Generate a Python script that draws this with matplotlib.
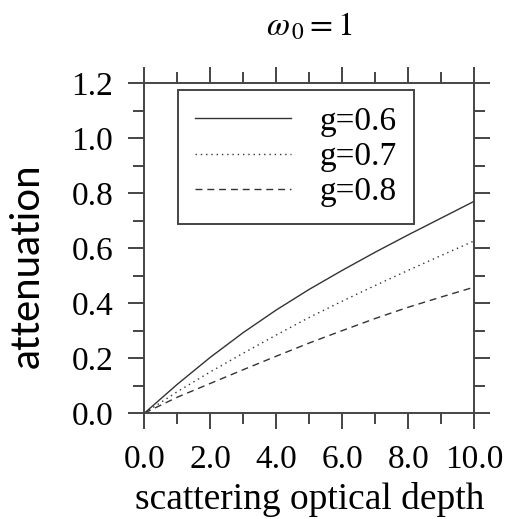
import numpy as np
import matplotlib
matplotlib.use('Agg')
import matplotlib.pyplot as plt
from matplotlib.ticker import MultipleLocator

# scattering optical depth and attenuation
tau = [0.0, 1.0, 2.0, 3.0, 4.0, 5.0, 6.0, 7.0, 8.0, 9.0, 10.0]
att_g06 = [0.0, 0.105, 0.203, 0.293, 0.375, 0.450, 0.519, 0.585, 0.648, 0.709, 0.770]
att_g07 = [0.0, 0.078, 0.150, 0.218, 0.284, 0.348, 0.407, 0.464, 0.519, 0.573, 0.626]
att_g08 = [0.0, 0.058, 0.108, 0.158, 0.207, 0.255, 0.300, 0.344, 0.385, 0.422, 0.458]

labels = ['g=0.6', 'g=0.7', 'g=0.8']
x_ticks = [0.0, 2.0, 4.0, 6.0, 8.0, 10.0]
y_ticks = [0.0, 0.2, 0.4, 0.6, 0.8, 1.0, 1.2]

plt.rcParams['font.family'] = ['Liberation Serif', 'DejaVu Serif']
plt.rcParams['mathtext.fontset'] = 'stix'

ink = '#444444'
fig = plt.figure(figsize=(5.12, 5.19), dpi=100)
ax = fig.add_axes([0.282, 0.204, 0.644, 0.636])

ax.plot(tau, att_g06, color='#333333', lw=1.0, ls='-', label=labels[0])
ax.plot(tau, att_g07, color='#333333', lw=1.0, ls=(0, (1, 2.8)), label=labels[1])
ax.plot(tau, att_g08, color='#333333', lw=1.0, ls=(0, (5, 3.5)), label=labels[2])

ax.set_xlim(0, 10)
ax.set_ylim(0, 1.2)
ax.set_xticks(x_ticks)
ax.set_yticks(y_ticks)
ax.set_xticklabels([f'{v:.1f}' for v in x_ticks])
ax.set_yticklabels([f'{v:.1f}' for v in y_ticks])
ax.xaxis.set_minor_locator(MultipleLocator(1.0))
ax.yaxis.set_minor_locator(MultipleLocator(0.1))

ax.tick_params(which='both', direction='out', top=True, right=True, color=ink, width=1.4)
ax.tick_params(which='major', length=11.5, pad=11, labelsize=24, labelcolor='black')
ax.tick_params(which='minor', length=8)
for s in ax.spines.values():
    s.set_color(ink)
    s.set_linewidth(1.4)

ax.set_title(r'$\omega_{\,0} = 1$', fontsize=24, pad=34)
ax.set_xlabel('scattering optical depth', fontsize=27, labelpad=5)
ax.set_ylabel('attenuation', fontsize=29, family=['Lato', 'DejaVu Sans'])
ax.yaxis.set_label_coords(-0.30, 0.448)

leg = ax.legend(loc='upper left', bbox_to_anchor=(0.102, 0.979), borderaxespad=0,
                fontsize=24, handlelength=2.9, handletextpad=0.85, labelspacing=0.14,
                borderpad=0.5, fancybox=False, framealpha=1)
leg.get_frame().set_edgecolor(ink)
leg.get_frame().set_linewidth(1.4)

plt.savefig('out.png', dpi=100)
